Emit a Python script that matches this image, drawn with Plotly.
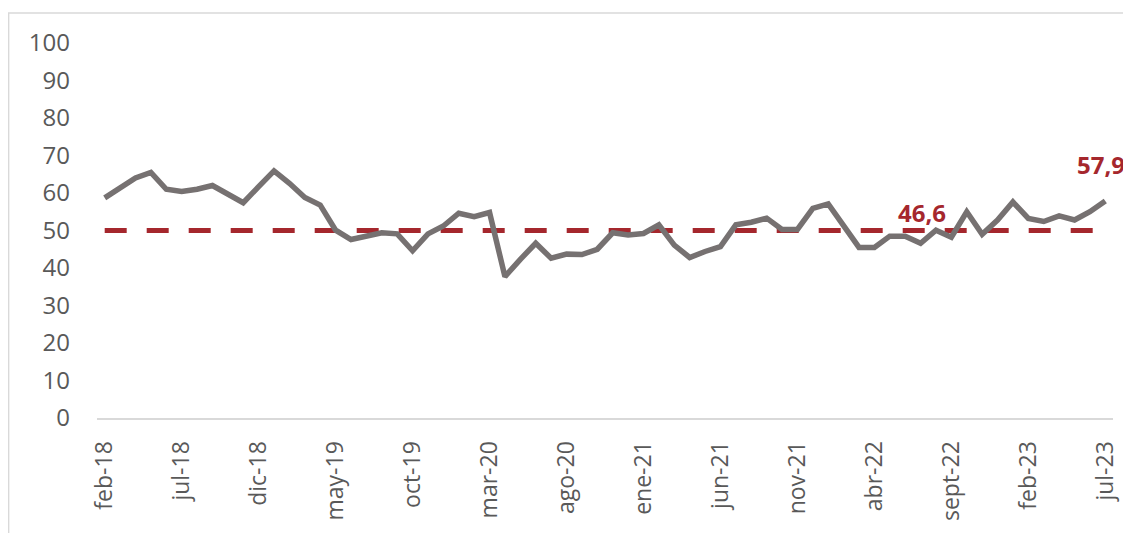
import plotly.graph_objects as go

months = ["ene", "feb", "mar", "abr", "may", "jun", "jul", "ago", "sept", "oct", "nov", "dic"]
categories = []
for yr in range(18, 24):
    for mi, m in enumerate(months):
        if (yr == 18 and mi < 1) or (yr == 23 and mi > 6):
            continue
        categories.append(f"{m}-{yr}")

values = [58.7, 61.3, 64.0, 65.5, 61.0, 60.4, 61.0, 62.0, 59.5, 57.4,
          61.7, 65.9, 62.6, 58.8, 56.8, 50.1, 47.6, 48.5, 49.4, 49.1,
          44.6, 49.1, 51.2, 54.6, 53.7, 54.8, 37.7, 42.3, 46.6, 42.6,
          43.7, 43.6, 45.0, 49.4, 48.8, 49.2, 51.5, 46.1, 42.8, 44.4,
          45.7, 51.5, 52.2, 53.3, 50.3, 50.3, 55.9, 57.1, 51.0, 45.5,
          45.5, 48.5, 48.5, 46.6, 50.1, 48.2, 55.0, 49.0, 52.8, 57.6,
          53.2, 52.4, 53.9, 52.8, 55.0, 57.9]

threshold = [50] * len(categories)
tick_labels = categories[::5]
yticks = list(range(0, 101, 10))

GRAY = "#767171"
RED = "#A5272D"
FONT = "Open Sans"

fig = go.Figure()
fig.add_trace(go.Scatter(x=categories, y=threshold, mode="lines",
                         line=dict(color=RED, width=5, dash="22px,20px"),
                         hoverinfo="skip", showlegend=False))
fig.add_trace(go.Scatter(x=categories, y=values, mode="lines",
                         line=dict(color=GRAY, width=5.5),
                         showlegend=False))

fig.add_annotation(x=categories[53], y=values[53], text="<b>46,6</b>", showarrow=False,
                   yshift=31, xshift=1, font=dict(family=FONT, size=24, color=RED))
fig.add_annotation(x=categories[-1], y=values[-1], text="<b>57,9</b>", showarrow=False,
                   yshift=36, xshift=-4, font=dict(family=FONT, size=24, color=RED))

# page body has an 8px margin: work in page pixels, offset by OFF
OFF = 8
W, H = 1131 - OFF, 533 - OFF
L, R, T, B = 97 - OFF, 1120 - OFF, 43 - OFF, 418 - OFF


def px(x):
    return (x - OFF - L) / (R - L)


def py(y):
    return (B - (y - OFF)) / (B - T)


fig.add_shape(type="rect", xref="paper", yref="paper",
              x0=px(8), x1=px(1150), y0=py(13), y1=py(550),
              line=dict(color="#D9D9D9", width=1.5))

fig.update_layout(
    width=W, height=H,
    margin=dict(l=L, r=W - R, t=T, b=H - B),
    paper_bgcolor="white", plot_bgcolor="white",
    font=dict(family=FONT, color="#595959"),
    xaxis=dict(type="category", categoryorder="array", categoryarray=categories,
               tickmode="array", tickvals=tick_labels, ticktext=tick_labels,
               tickangle=-90, tickfont=dict(size=23, color="#595959"),
               showgrid=False, zeroline=False, showline=True,
               linecolor="#D9D9D9", linewidth=2, ticks="", ticklabelstandoff=12,
               range=[-0.5, len(categories) - 0.5]),
    yaxis=dict(range=[0, 100], tickvals=yticks, showgrid=False, zeroline=False,
               showline=False, ticks="", tickfont=dict(size=24, color="#595959"),
               ticklabelstandoff=26),
)

fig.write_html("out.html")
